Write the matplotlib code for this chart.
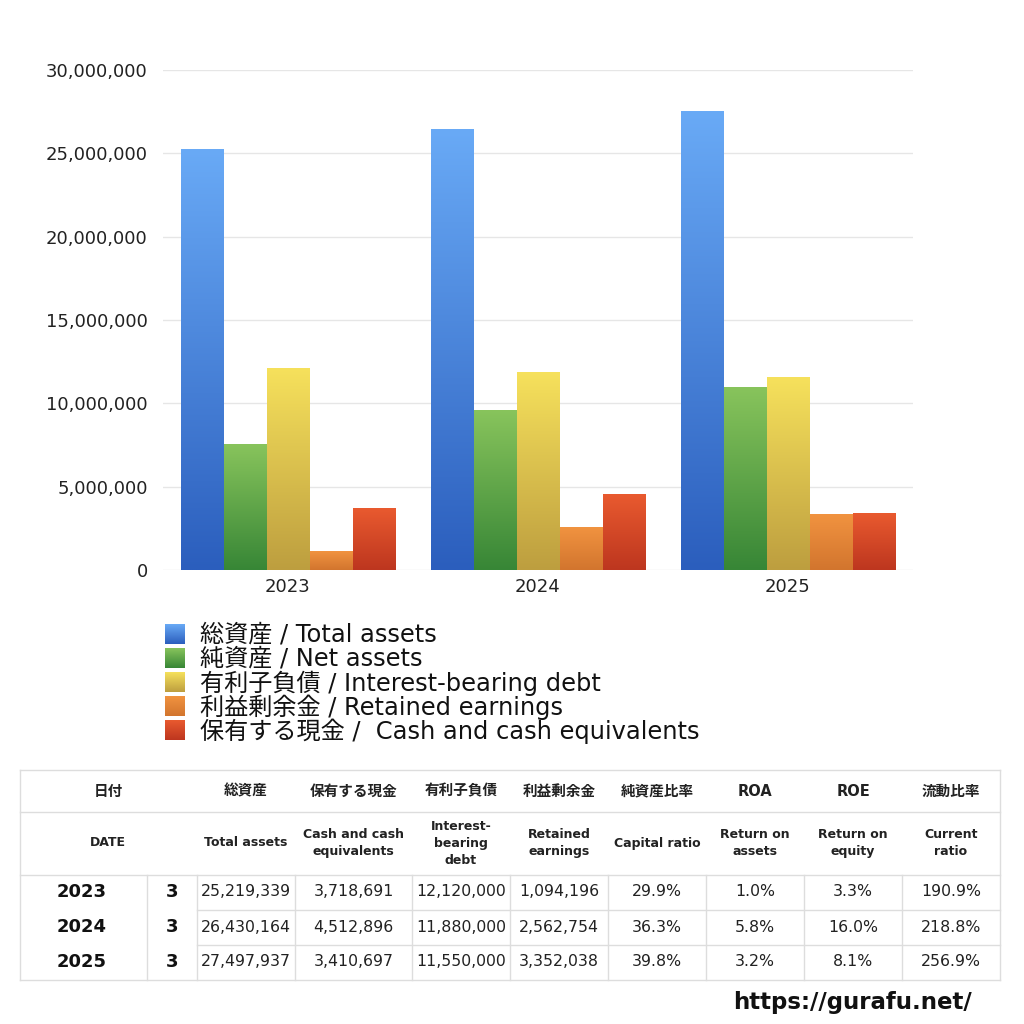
import matplotlib
matplotlib.use('Agg')
import matplotlib.pyplot as plt
import numpy as np
from matplotlib.colors import LinearSegmentedColormap
from matplotlib.ticker import FuncFormatter

plt.rcParams['font.family'] = ['DejaVu Sans', 'Noto Sans CJK JP']

# データ
years = ['2023', '2024', '2025']
months = ['3', '3', '3']
total_assets = [25219339, 26430164, 27497937]
net_assets = [7540000, 9594000, 10944000]
interest_debt = [12120000, 11880000, 11550000]
retained = [1094196, 2562754, 3352038]
cash = [3718691, 4512896, 3410697]

series_labels = ['総資産 / Total assets', '純資産 / Net assets',
                 '有利子負債 / Interest-bearing debt', '利益剰余金 / Retained earnings',
                 '保有する現金 /  Cash and cash equivalents']
# (上, 下) グラデーション
series_colors = [('#69aaf6', '#2b5ebd'), ('#88c45c', '#378636'),
                 ('#f6e15c', '#bd9e3f'), ('#f19340', '#d2752e'),
                 ('#e95a2f', '#bd361f')]

header_jp = ['総資産', '保有する現金', '有利子負債', '利益剰余金', '純資産比率', 'ROA', 'ROE', '流動比率']
header_en = ['Total assets', 'Cash and cash\nequivalents', 'Interest-\nbearing\ndebt',
             'Retained\nearnings', 'Capital ratio', 'Return on\nassets', 'Return on\nequity', 'Current\nratio']
capital_ratio = ['29.9%', '36.3%', '39.8%']
roa = ['1.0%', '5.8%', '3.2%']
roe = ['3.3%', '16.0%', '8.1%']
current_ratio = ['190.9%', '218.8%', '256.9%']

W = 1024
fig = plt.figure(figsize=(10.24, 10.24), dpi=100)

# 1. 棒グラフ
ax = fig.add_axes([163 / W, 1 - 570 / W, 750 / W, 500 / W])
all_series = [total_assets, net_assets, interest_debt, retained, cash]
bw = 0.172
x = np.arange(len(years))
grad = np.linspace(0, 1, 256).reshape(-1, 1)
for i, vals in enumerate(all_series):
    top, bottom = series_colors[i]
    cmap = LinearSegmentedColormap.from_list('g%d' % i, [bottom, top])
    for xi, v in zip(x, vals):
        x0 = xi + (i - 2) * bw - bw / 2
        ax.imshow(grad, extent=[x0, x0 + bw, 0, v], origin='lower', aspect='auto',
                  cmap=cmap, zorder=3, interpolation='bilinear')

ax.set_xlim(-0.5, 2.5)
ax.set_ylim(0, 30000000)
ax.set_yticks(np.arange(0, 30000001, 5000000))
ax.yaxis.set_major_formatter(FuncFormatter(lambda v, p: '{:,.0f}'.format(v)))
ax.set_xticks(x)
ax.set_xticklabels(years)
ax.grid(axis='y', color='#e6e6e6', linewidth=1, zorder=0)
for s in ax.spines.values():
    s.set_visible(False)
ax.tick_params(length=0, labelsize=13, colors='#222222')
ax.tick_params(axis='y', pad=11)
ax.tick_params(axis='x', pad=6)

# 2. 凡例 + 表 (ピクセル座標)
ov = fig.add_axes([0, 0, 1, 1])
ov.set_xlim(0, W)
ov.set_ylim(W, 0)
ov.axis('off')

for i, lab in enumerate(series_labels):
    top, bottom = series_colors[i]
    cmap = LinearSegmentedColormap.from_list('l%d' % i, [bottom, top])
    y0 = 624 + i * 24
    ov.imshow(grad, extent=[165, 185, y0 + 20, y0], origin='lower', aspect='auto',
              cmap=cmap, interpolation='bilinear')
    ov.text(200, y0 + 11, lab, fontsize=17.4, va='center', ha='left', color='#111111')
ov.set_xlim(0, W)
ov.set_ylim(W, 0)

line_c = '#dddddd'
cols = [197, 295, 412, 510, 608, 706, 804, 902, 1000]
# 枠線
ov.plot([20, 1000], [770, 770], color=line_c, lw=1)
ov.plot([20, 1000], [812, 812], color=line_c, lw=1)
ov.plot([20, 1000], [875, 875], color=line_c, lw=1)
ov.plot([20, 1000], [980, 980], color=line_c, lw=1)
ov.plot([20, 20], [770, 980], color=line_c, lw=1)
ov.plot([1000, 1000], [770, 980], color=line_c, lw=1)
for cx in [147] + cols[:-1]:
    ov.plot([cx, cx], [875, 980], color=line_c, lw=1)
for ry in [910, 945]:
    ov.plot([197, 1000], [ry, ry], color=line_c, lw=1)

jp_kw = dict(fontsize=10.5, fontweight='bold', ha='center', va='center', color='#222222')
en_kw = dict(fontsize=9, fontweight='bold', ha='center', va='center', color='#222222')
ov.text(108, 791, '日付', **jp_kw)
ov.text(108, 843, 'DATE', **en_kw)
for j in range(8):
    cx = (cols[j] + cols[j + 1]) / 2
    ov.text(cx, 791, header_jp[j], **jp_kw)
    ov.text(cx, 843, header_en[j], linespacing=1.4, **en_kw)

row_y = [892, 927, 962]
num_cols = [total_assets, cash, interest_debt, retained]
for r in range(3):
    ov.text(57, row_y[r], years[r], fontsize=13, fontweight='bold', ha='left', va='center', color='#111111')
    ov.text(172, row_y[r], months[r], fontsize=13, fontweight='bold', ha='center', va='center', color='#111111')
    cells = ['{:,}'.format(c[r]) for c in num_cols] + [capital_ratio[r], roa[r], roe[r], current_ratio[r]]
    for j, t in enumerate(cells):
        cx = (cols[j] + cols[j + 1]) / 2
        ov.text(cx, row_y[r], t, fontsize=11.3, ha='center', va='center', color='#222222')

ov.text(972, 1003, 'https://gurafu.net/', fontsize=16.5, fontweight='bold', ha='right', va='center', color='#111111')

fig.savefig('out.png', dpi=100)
